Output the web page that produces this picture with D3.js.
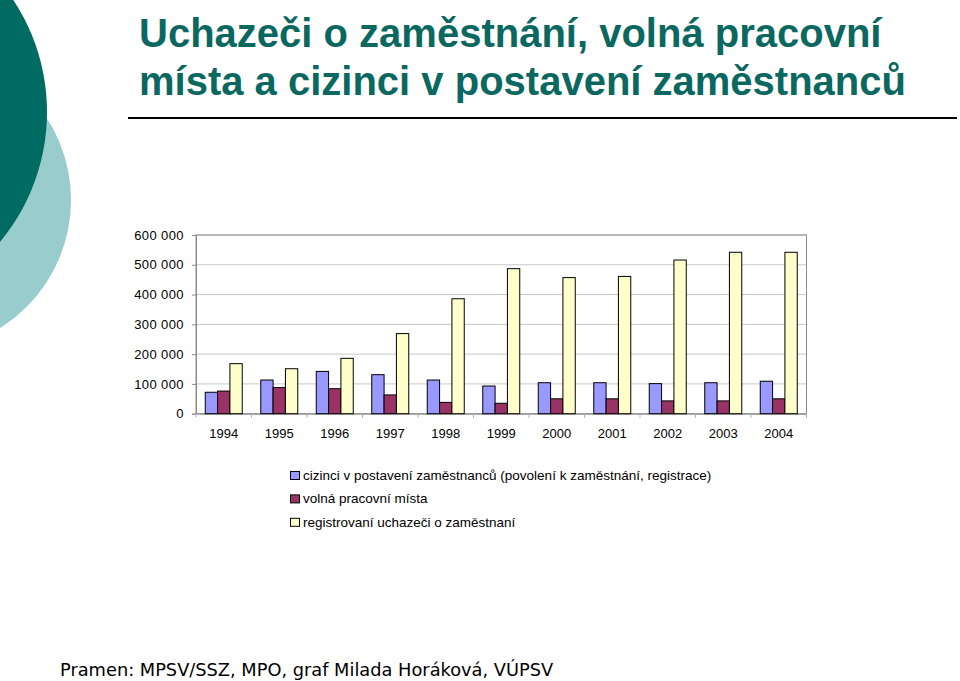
<!DOCTYPE html>
<html>
<head>
  <meta charset="utf-8">
  <script src="https://cdn.jsdelivr.net/npm/d3@7"></script>
  <style>
    body { margin: 0; background: #fff; }
    text { font-family: Arial, "Liberation Sans", sans-serif; }
  </style>
</head>
<body>
<div id="chart"></div>
<script>
// data
var years = ["1994", "1995", "1996", "1997", "1998", "1999", "2000", "2001", "2002", "2003", "2004"];
var cizinci = [72000, 113000, 142000, 131000, 113000, 93000, 104000, 104000, 101000, 104000, 109000];
var volnaMista = [76000, 88000, 84000, 63000, 38000, 35000, 50000, 50000, 43000, 43000, 50000];
var uchazeci = [168000, 151000, 186000, 269000, 386000, 487000, 457000, 461000, 516000, 542000, 542000];
var seriesNames = [
  "cizinci v postavení zaměstnanců (povolení k zaměstnání, registrace)",
  "volná pracovní místa",
  "registrovaní uchazeči o zaměstnaní"
];
var yTicks = [0, 100000, 200000, 300000, 400000, 500000, 600000];
var titleLines = ["Uchazeči o zaměstnání, volná pracovní", "místa a cizinci v postavení zaměstnanců"];
var source = "Pramen: MPSV/SSZ, MPO, graf Milada Horáková, VÚPSV";

var colors = ["#9999ff", "#993366", "#ffffcc"];
var seriesData = [cizinci, volnaMista, uchazeci];

var W = 960, H = 681;
var svg = d3.select("#chart").append("svg")
  .attr("width", W)
  .attr("height", H);

// background circles on the left
svg.append("circle")
  .attr("cx", -80).attr("cy", 200).attr("r", 151)
  .attr("fill", "#99cccc");
svg.append("circle")
  .attr("cx", -156).attr("cy", 112).attr("r", 203)
  .attr("fill", "#006b63");

// title
var title = svg.append("g");
titleLines.forEach(function (t, i) {
  title.append("text")
    .attr("x", 139)
    .attr("y", 46.5 + i * 48)
    .attr("fill", "#0b6861")
    .style("font-size", "40px")
    .style("font-weight", "bold")
    .text(t);
});
svg.append("line")
  .attr("x1", 128).attr("x2", 957)
  .attr("y1", 118).attr("y2", 118)
  .attr("stroke", "#000")
  .attr("stroke-width", 2);

// chart area
var plotLeft = 196, plotRight = 806.5, plotTop = 235, plotBottom = 413.7;

var x = d3.scaleBand()
  .domain(years)
  .range([plotLeft, plotRight])
  .paddingInner(1 / 3)
  .paddingOuter(1 / 6);

var xs = d3.scaleBand()
  .domain([0, 1, 2])
  .range([0, x.bandwidth()]);

var y = d3.scaleLinear()
  .domain([0, 600000])
  .range([plotBottom, plotTop]);

// gridlines
svg.append("g")
  .selectAll("line")
  .data(yTicks.slice(1))
  .enter().append("line")
    .attr("x1", plotLeft).attr("x2", plotRight)
    .attr("y1", function (d) { return y(d); })
    .attr("y2", function (d) { return y(d); })
    .attr("stroke", "#c8c8c8");

// plot border
svg.append("rect")
  .attr("x", plotLeft).attr("y", plotTop)
  .attr("width", plotRight - plotLeft).attr("height", plotBottom - plotTop)
  .attr("fill", "none")
  .attr("stroke", "#8c8c8c");

// y axis
var yAxis = svg.append("g")
  .attr("transform", "translate(" + plotLeft + ",0)")
  .call(d3.axisLeft(y)
    .tickValues(yTicks)
    .tickSize(4)
    .tickPadding(8)
    .tickFormat(function (d) { return d3.format(",")(d).replace(/,/g, " "); }));
yAxis.select(".domain").attr("stroke", "#8c8c8c");
yAxis.selectAll(".tick line").attr("stroke", "#8c8c8c");
yAxis.selectAll("text")
  .style("font-family", "Arial, 'Liberation Sans', sans-serif")
  .style("font-size", "13px")
  .style("letter-spacing", "0.4px")
  .attr("fill", "#000");

// x axis
var xAxis = svg.append("g")
  .attr("transform", "translate(0," + plotBottom + ")")
  .call(d3.axisBottom(x).tickSize(0).tickPadding(15));
xAxis.select(".domain").attr("stroke", "#8c8c8c");
xAxis.selectAll("text")
  .style("font-family", "Arial, 'Liberation Sans', sans-serif")
  .style("font-size", "13px")
  .attr("fill", "#000");
// small tick marks between categories
svg.append("g")
  .selectAll("line")
  .data(d3.range(years.length + 1))
  .enter().append("line")
    .attr("x1", function (i) { return plotLeft + i * x.step(); })
    .attr("x2", function (i) { return plotLeft + i * x.step(); })
    .attr("y1", plotBottom).attr("y2", plotBottom + 4)
    .attr("stroke", "#b0b0b0");

// bars
var groups = svg.append("g")
  .selectAll("g")
  .data(years)
  .enter().append("g")
    .attr("transform", function (d) { return "translate(" + x(d) + ",0)"; });

groups.selectAll("rect")
  .data(function (d, i) { return seriesData.map(function (s, k) { return {k: k, v: s[i]}; }); })
  .enter().append("rect")
    .attr("x", function (d) { return xs(d.k); })
    .attr("width", xs.bandwidth())
    .attr("y", function (d) { return y(d.v); })
    .attr("height", function (d) { return plotBottom - y(d.v); })
    .attr("fill", function (d) { return colors[d.k]; })
    .attr("stroke", "#000")
    .attr("stroke-width", 1);

// legend
var legend = svg.append("g")
  .selectAll("g")
  .data(seriesNames)
  .enter().append("g")
    .attr("transform", function (d, i) { return "translate(290.5," + (471.5 + i * 23.4) + ")"; });
legend.append("rect")
  .attr("width", 9).attr("height", 8)
  .attr("fill", function (d, i) { return colors[i]; })
  .attr("stroke", "#000");
legend.append("text")
  .attr("x", 12.5)
  .attr("y", 8.5)
  .style("font-size", "13.5px")
  .text(function (d) { return d; });

// source
svg.append("text")
  .attr("x", 60)
  .attr("y", 676)
  .style("font-family", "Verdana, 'DejaVu Sans', sans-serif")
  .style("font-size", "17.8px")
  .text(source);
</script>
</body>
</html>
